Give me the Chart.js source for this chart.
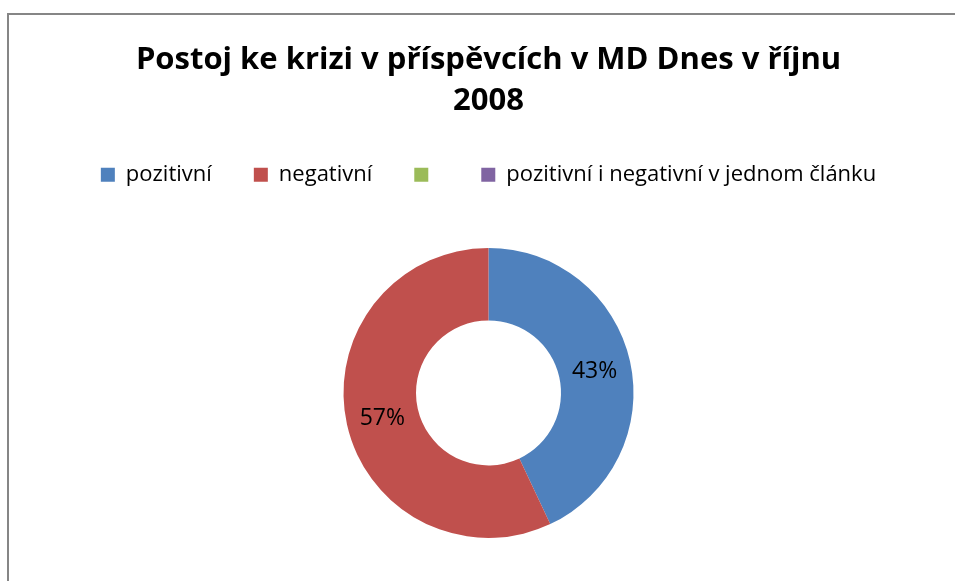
<!DOCTYPE html>
<html lang="cs">
<head>
    <meta charset="UTF-8">
    <title>Postoj ke krizi</title>
    <script src="https://cdn.jsdelivr.net/npm/chart.js"></script>
    <style>
        body { margin: 0; overflow: hidden; background: #fff; }
        #frame {
            position: absolute; left: 7px; top: 13px;
            width: 1100px; height: 800px;
            border: 2.5px solid #868686;
        }
        #wrap { position: absolute; left: 0; top: 0; width: 955px; height: 640px; }
    </style>
</head>
<body>
    <div id="frame"></div>
    <div id="wrap"><canvas id="krize" width="955" height="640"></canvas></div>

    <script>
        const titleLines = ['Postoj ke krizi v příspěvcích v MD Dnes v říjnu', '2008'];
        const labels = ['pozitivní', 'negativní', '', 'pozitivní i negativní v jednom článku'];
        const values = [43, 57, 0, 0];
        const colors = ['#4F81BD', '#C0504D', '#9BBB59', '#8064A2'];

        // percentages written in the middle of each ring segment
        const percentLabels = {
            id: 'percentLabels',
            afterDatasetsDraw(chart) {
                const ctx = chart.ctx;
                const total = values.reduce((a, b) => a + b, 0);
                ctx.save();
                ctx.font = '23px "Open Sans"';
                ctx.fillStyle = '#000';
                ctx.textAlign = 'center';
                ctx.textBaseline = 'middle';
                chart.getDatasetMeta(0).data.forEach((arc, i) => {
                    if (!values[i]) return;
                    const p = arc.tooltipPosition();
                    ctx.fillText(Math.round(values[i] / total * 100) + '%', p.x, p.y + 2);
                });
                ctx.restore();
            }
        };

        new Chart(document.getElementById('krize'), {
            type: 'doughnut',
            data: {
                labels: labels,
                datasets: [{
                    data: values,
                    backgroundColor: colors,
                    borderWidth: 0,
                    radius: 145,
                    cutout: '50%'
                }]
            },
            options: {
                responsive: false,
                animation: false,
                layout: { padding: { left: 22, top: 0, bottom: 50 } },
                plugins: {
                    title: {
                        display: true,
                        text: titleLines,
                        color: '#000',
                        font: { family: 'Open Sans', size: 31, weight: 'bold', lineHeight: 1.32 },
                        padding: { top: 40, bottom: 0 }
                    },
                    legend: {
                        position: 'top',
                        labels: {
                            color: '#000',
                            font: { family: 'Open Sans', size: 22 },
                            boxWidth: 14,
                            boxHeight: 14,
                            padding: 42
                        }
                    },
                    tooltip: { enabled: false }
                }
            },
            plugins: [percentLabels]
        });
    </script>
</body>
</html>
